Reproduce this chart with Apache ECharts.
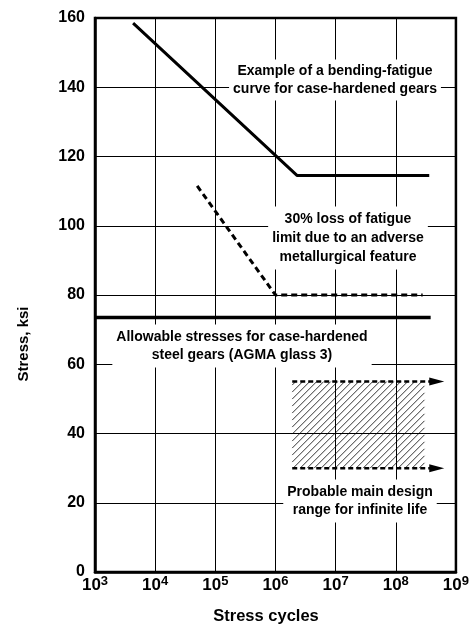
<!DOCTYPE html>
<html>
<head>
<meta charset="utf-8">
<script src="https://cdn.jsdelivr.net/npm/echarts@6/dist/echarts.min.js"></script>
<style>
  html, body { margin: 0; padding: 0; background: #fff; }
  #chart { width: 472px; height: 625px; }
</style>
</head>
<body>
<div id="chart"></div>
<script>
// S-N data for case-hardened gears (stress in ksi vs. stress cycles)
const xRange = [1e3, 1e9];
const yRange = [0, 160];
const yStep = 20;

// Bending-fatigue curve: sloped segment, knee, endurance plateau
const bendingCycles = [4.3e3, 2.3e6, 3.6e8];
const bendingStress = [158.5, 114.5, 114.5];

// Same curve after a 30% loss of fatigue limit
const degradedCycles = [5.0e4, 1.0e6, 2.8e8];
const degradedStress = [111.5, 80, 80];

// AGMA grade 3 allowable stress level
const allowableCycles = [1e3, 3.8e8];
const allowableStress = [73.5, 73.5];

// Probable design range for infinite life
const rangeCycles = [1.9e6, 3.0e8];   // hatched span
const rangeArrowEnd = 4.8e8;          // arrow tips
const rangeStress = [30, 55];         // lower / upper bound

const FONT = "'Liberation Sans', Arial, Helvetica, sans-serif";

const zip = (xs, ys) => xs.map((x, i) => [x, ys[i]]);

function arrowLine(level) {
  return [
    [rangeCycles[0], level],
    { value: [rangeArrowEnd, level], symbol: 'triangle', symbolSize: [8, 15], symbolRotate: -90 }
  ];
}

function hatchItem(params, api) {
  const tl = api.coord([api.value(0), api.value(3)]);
  const br = api.coord([api.value(1), api.value(2)]);
  const x0 = tl[0], y0 = tl[1], x1 = br[0], y1 = br[1];
  const children = [];
  const step = 7;
  for (let c = x0 + y0 + step / 2; c < x1 + y1; c += step) {
    const sx = Math.max(x0, c - y1);
    const ex = Math.min(x1, c - y0);
    if (ex <= sx) continue;
    children.push({
      type: 'line',
      shape: { x1: sx, y1: c - sx, x2: ex, y2: c - ex },
      style: { stroke: '#000', lineWidth: 0.8 }
    });
  }
  return { type: 'group', children };
}

function note(text, x, y, lh) {
  return {
    type: 'text',
    x, y,
    z: 1,
    style: {
      text,
      font: `bold 14px ${FONT}`,
      fill: '#000',
      align: 'center',
      verticalAlign: 'middle',
      lineHeight: lh,
      backgroundColor: '#fff',
      padding: [3, 4]
    }
  };
}

const chart = echarts.init(document.getElementById('chart'), null, { renderer: 'canvas' });

chart.setOption({
  backgroundColor: '#fff',
  animation: false,
  grid: {
    left: 95, right: 15, top: 18, bottom: 53,
    show: true, borderColor: '#000', borderWidth: 2.5, backgroundColor: 'transparent'
  },
  xAxis: {
    type: 'log',
    logBase: 10,
    min: xRange[0],
    max: xRange[1],
    axisLine: { show: true, lineStyle: { color: '#000', width: 2.5 } },
    axisTick: { show: false },
    splitLine: { show: true, lineStyle: { color: '#000', width: 1 } },
    axisLabel: {
      margin: 3,
      formatter: v => '{b|10}{s|' + Math.round(Math.log10(v)) + '}',
      rich: {
        b: { fontFamily: FONT, fontSize: 17, fontWeight: 'bold', color: '#000', lineHeight: 19, verticalAlign: 'bottom' },
        s: { fontFamily: FONT, fontSize: 13, fontWeight: 'bold', color: '#000', lineHeight: 19, verticalAlign: 'top' }
      }
    }
  },
  yAxis: {
    type: 'value',
    min: yRange[0],
    max: yRange[1],
    interval: yStep,
    axisLine: { show: true, lineStyle: { color: '#000', width: 2.5 } },
    axisTick: { show: false },
    splitLine: { show: true, lineStyle: { color: '#000', width: 1 } },
    axisLabel: { margin: 10, fontFamily: FONT, fontSize: 16, fontWeight: 'bold', color: '#000' }
  },
  series: [
    {
      name: 'Bending-fatigue curve',
      type: 'line',
      data: zip(bendingCycles, bendingStress),
      symbol: 'none',
      lineStyle: { color: '#000', width: 3 },
      z: 3
    },
    {
      name: '30% loss of fatigue limit',
      type: 'line',
      data: zip(degradedCycles, degradedStress),
      symbol: 'none',
      lineStyle: { color: '#000', width: 3, type: [6, 4] },
      z: 3
    },
    {
      name: 'Allowable stress',
      type: 'line',
      data: zip(allowableCycles, allowableStress),
      symbol: 'none',
      lineStyle: { color: '#000', width: 3.5 },
      z: 3
    },
    {
      name: 'Design range hatch',
      type: 'custom',
      renderItem: hatchItem,
      encode: { x: [0, 1], y: [2, 3] },
      data: [[rangeCycles[0], rangeCycles[1], rangeStress[0], rangeStress[1]]],
      z: 3
    },
    {
      name: 'Design range upper',
      type: 'line',
      data: arrowLine(rangeStress[1]),
      symbol: 'none',
      showSymbol: true,
      itemStyle: { color: '#000' },
      lineStyle: { color: '#000', width: 2.5, type: [5, 3] },
      z: 3
    },
    {
      name: 'Design range lower',
      type: 'line',
      data: arrowLine(rangeStress[0]),
      symbol: 'none',
      showSymbol: true,
      itemStyle: { color: '#000' },
      lineStyle: { color: '#000', width: 2.5, type: [5, 3] },
      z: 3
    }
  ],
  graphic: [
    note('Example of a bending-fatigue\ncurve for case-hardened gears', 335, 80, 17.5),
    note('30% loss of fatigue\nlimit due to an adverse\nmetallurgical feature', 348, 238, 19),
    note('Allowable stresses for case-hardened\nsteel gears (AGMA glass 3)', 242, 346, 18.5),
    note('Probable main design\nrange for infinite life', 360, 501, 18.5),
    {
      type: 'text',
      x: 24, y: 344,
      rotation: Math.PI / 2,
      style: {
        text: 'Stress, ksi',
        font: `bold 15px ${FONT}`,
        fill: '#000',
        align: 'center',
        verticalAlign: 'middle'
      }
    },
    {
      type: 'text',
      x: 266, y: 616,
      style: {
        text: 'Stress cycles',
        font: `bold 16.5px ${FONT}`,
        fill: '#000',
        align: 'center',
        verticalAlign: 'middle'
      }
    }
  ]
});
</script>
</body>
</html>
